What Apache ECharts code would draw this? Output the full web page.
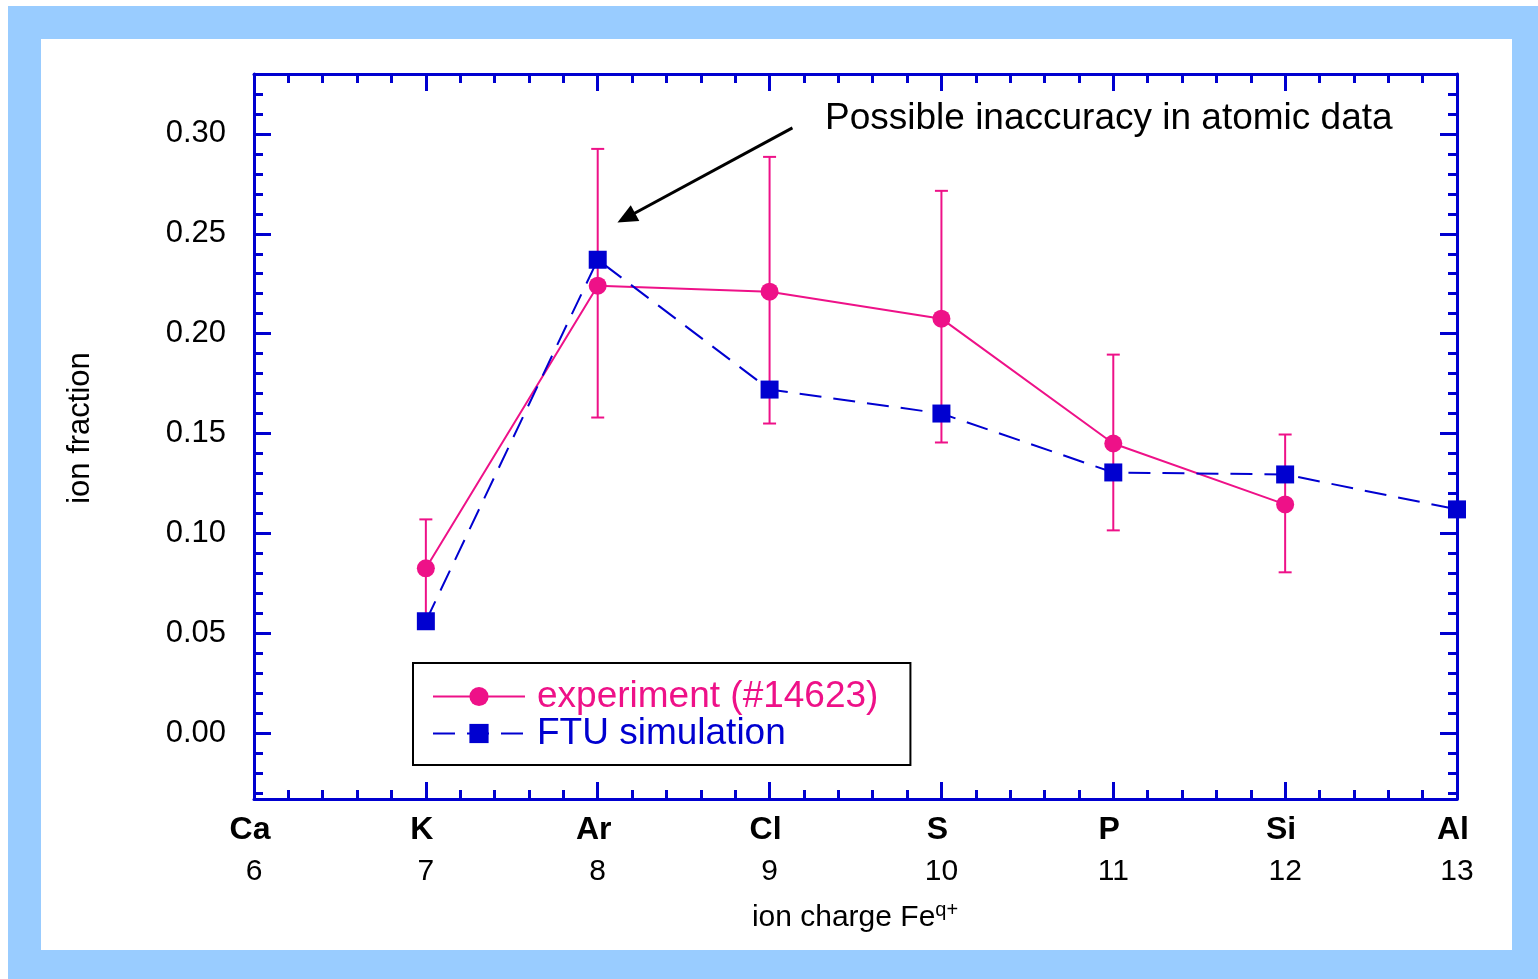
<!DOCTYPE html>
<html>
<head>
<meta charset="utf-8">
<script src="https://cdn.jsdelivr.net/npm/echarts@6/dist/echarts.min.js"></script>
<style>
  html, body { margin: 0; padding: 0; background: #ffffff; }
  #frame { position: absolute; left: 8px; top: 6px; width: 1530px; height: 973px; background: #99ccff; }
  #panel { position: absolute; left: 41px; top: 39px; width: 1471px; height: 911px; background: #ffffff; }
  #chart { position: absolute; left: 0; top: 0; width: 1538px; height: 979px; }
</style>
</head>
<body>
<div id="frame"></div>
<div id="panel"></div>
<div id="chart"></div>
<script>
// Ion charge states of iron and the isoelectronic element names
const charges = [6, 7, 8, 9, 10, 11, 12, 13];
const elements = ['Ca', 'K', 'Ar', 'Cl', 'S', 'P', 'Si', 'Al'];

// Measured ion fractions (shot #14623) with error bar limits
const expCharge = [7, 8, 9, 10, 11, 12];
const expFraction = [0.0825, 0.224, 0.221, 0.2075, 0.145, 0.1145];
const expLow = [0.058, 0.158, 0.155, 0.1455, 0.1015, 0.0805];
const expHigh = [0.107, 0.2925, 0.2885, 0.2715, 0.1895, 0.1495];

// FTU simulation
const simCharge = [7, 8, 9, 10, 11, 12, 13];
const simFraction = [0.056, 0.237, 0.172, 0.160, 0.1305, 0.1295, 0.112];

// Y tick labels
const yTickLabels = ['0.00', '0.05', '0.10', '0.15', '0.20', '0.25', '0.30'];
const yMinorTicks = [-0.03, -0.02, -0.01, 0.00, 0.01, 0.02, 0.03, 0.04, 0.05, 0.06, 0.07, 0.08, 0.09,
  0.10, 0.11, 0.12, 0.13, 0.14, 0.15, 0.16, 0.17, 0.18, 0.19, 0.20, 0.21, 0.22, 0.23, 0.24,
  0.25, 0.26, 0.27, 0.28, 0.29, 0.30, 0.31, 0.32];

const BLUE = '#0000d0';
const PINK = '#ee1188';
const FONT = '"Liberation Sans", Arial, sans-serif';

const chart = echarts.init(document.getElementById('chart'), null, { renderer: 'canvas' });

const yMin = -0.033, yMax = 0.33;
const yMajor = yTickLabels.map(Number);

function xAxisDef(position, labels) {
  return {
    type: 'value', position: position, min: 6, max: 13, interval: 1,
    axisLine: { show: true, onZero: false, lineStyle: { color: BLUE, width: 3 } },
    axisTick: { show: true, inside: true, length: 17, lineStyle: { color: BLUE, width: 3 } },
    minorTick: { show: true, splitNumber: 5, length: 9, lineStyle: { color: BLUE, width: 3 } },
    splitLine: { show: false },
    axisLabel: labels ? {
      show: true, margin: 10,
      formatter: function (v) {
        const i = charges.indexOf(Math.round(v));
        return '{b|' + elements[i] + '}\n{n|' + charges[i] + '}';
      },
      rich: {
        b: { fontFamily: FONT, fontWeight: 'bold', fontSize: 32, lineHeight: 42, color: '#000', padding: [0, 8, 0, 0] },
        n: { fontFamily: FONT, fontSize: 30, lineHeight: 42, color: '#000' }
      }
    } : { show: false }
  };
}

function yAxisDef(position, values, len, line, labels) {
  return {
    type: 'value', position: position, min: yMin, max: yMax,
    axisLine: { show: line, onZero: false, lineStyle: { color: BLUE, width: 3 } },
    axisTick: { show: true, inside: true, length: len, customValues: values, lineStyle: { color: BLUE, width: 3 } },
    splitLine: { show: false },
    axisLabel: labels ? {
      show: true, margin: 28, customValues: yMajor,
      fontFamily: FONT, fontSize: 31, color: '#000',
      formatter: function (v) { return v.toFixed(2); }
    } : { show: false }
  };
}

const option = {
  animation: false,
  backgroundColor: 'transparent',
  grid: { left: 254, right: 81, top: 74, bottom: 180, containLabel: false },
  xAxis: [xAxisDef('bottom', true), xAxisDef('top', false)],
  yAxis: [
    yAxisDef('left', yMajor, 17, true, true),
    yAxisDef('left', yMinorTicks, 9, false, false),
    yAxisDef('right', yMajor, 17, true, false),
    yAxisDef('right', yMinorTicks, 9, false, false)
  ],
  legend: {
    orient: 'vertical', left: 413, top: 663,
    padding: [15, 32, 13, 19],
    backgroundColor: '#fff', borderColor: '#000', borderWidth: 2, borderRadius: 0,
    itemWidth: 92, itemHeight: 24, itemGap: 0,
    textStyle: { fontFamily: FONT, fontSize: 37, lineHeight: 34, padding: [0, 0, 0, 7] },
    data: [
      { name: 'experiment (#14623)', textStyle: { color: PINK } },
      { name: 'FTU simulation', textStyle: { color: BLUE } }
    ]
  },
  graphic: [
    { type: 'text', left: 825, top: 100, style: { text: 'Possible inaccuracy in atomic data', fontFamily: FONT, fontSize: 37, fill: '#000' } },
    { type: 'text', x: 855, y: 918, style: { text: '{a|ion charge Fe}{s|q+}', align: 'center', verticalAlign: 'middle',
        rich: { a: { fontFamily: FONT, fontSize: 30, fill: '#000' }, s: { fontFamily: FONT, fontSize: 20, fill: '#000', padding: [0, 0, 16, 0] } } } },
    { type: 'text', x: 80, y: 428, rotation: Math.PI / 2, style: { text: 'ion fraction', align: 'center', verticalAlign: 'middle', fontFamily: FONT, fontSize: 31, fill: '#000' } }
  ],
  series: [
    {
      name: 'error', type: 'custom', xAxisIndex: 0, yAxisIndex: 0, z: 2, silent: true,
      data: expCharge.map((c, i) => [c, expLow[i], expHigh[i]]),
      renderItem: function (params, api) {
        const lo = api.coord([api.value(0), api.value(1)]);
        const hi = api.coord([api.value(0), api.value(2)]);
        const w = 6.5;
        const st = { stroke: PINK, lineWidth: 2 };
        return {
          type: 'group', children: [
            { type: 'line', shape: { x1: lo[0], y1: lo[1], x2: hi[0], y2: hi[1] }, style: st },
            { type: 'line', shape: { x1: lo[0] - w, y1: lo[1], x2: lo[0] + w, y2: lo[1] }, style: st },
            { type: 'line', shape: { x1: hi[0] - w, y1: hi[1], x2: hi[0] + w, y2: hi[1] }, style: st }
          ]
        };
      }
    },
    {
      name: 'experiment (#14623)', type: 'line', xAxisIndex: 0, yAxisIndex: 0, z: 3,
      data: expCharge.map((c, i) => [c, expFraction[i]]),
      symbol: 'circle', symbolSize: 18,
      itemStyle: { color: PINK },
      lineStyle: { color: PINK, width: 2 }
    },
    {
      name: 'FTU simulation', type: 'line', xAxisIndex: 0, yAxisIndex: 0, z: 4,
      data: simCharge.map((c, i) => [c, simFraction[i]]),
      symbol: 'rect', symbolSize: 18,
      itemStyle: { color: BLUE },
      lineStyle: { color: BLUE, width: 2, type: [22, 12] },
      markLine: {
        silent: true, symbol: ['none', 'triangle'], symbolSize: [18, 20],
        lineStyle: { color: '#000', width: 3, type: 'solid' },
        label: { show: false },
        data: [[{ coord: [9.133, 0.303] }, { coord: [8.166, 0.258] }]]
      }
    }
  ]
};

chart.setOption(option);
</script>
</body>
</html>
